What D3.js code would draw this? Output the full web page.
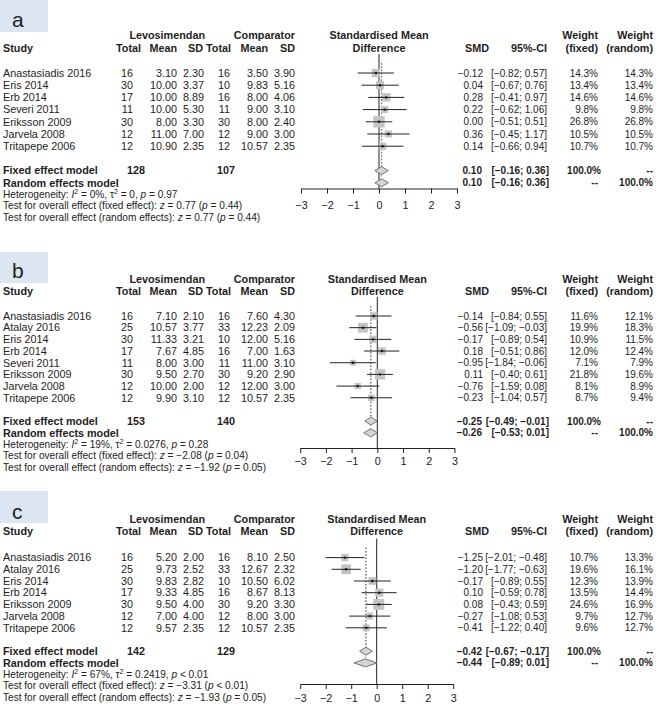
<!DOCTYPE html>
<html><head><meta charset="utf-8">
<script src="https://cdn.jsdelivr.net/npm/d3@7"></script>
<style>
body{margin:0;background:#fff;}
svg{display:block;font-family:"Liberation Sans",Arial,Helvetica,sans-serif;}
</style>
</head><body>
<svg id="chart" width="658" height="723"></svg>
<script>
// ---------- DATA: panel a ----------
const studiesA   = ["Anastasiadis 2016","Eris 2014","Erb 2014","Severi 2011","Eriksson 2009","Jarvela 2008","Tritapepe 2006"];
const levoTotalA = [16,30,17,11,30,12,12];
const levoMeanA  = [3.10,10.00,10.00,10.00,8.00,11.00,10.90];
const levoSdA    = [2.30,3.37,8.89,5.30,3.30,7.00,2.35];
const compTotalA = [16,10,16,11,30,12,12];
const compMeanA  = [3.50,9.83,8.00,9.00,8.00,9.00,10.57];
const compSdA    = [3.90,5.16,4.06,3.10,2.40,3.00,2.35];
const smdA       = [-0.12,0.04,0.28,0.22,0.00,0.36,0.14];
const lowerA     = [-0.82,-0.67,-0.41,-0.62,-0.51,-0.45,-0.66];
const upperA     = [0.57,0.76,0.97,1.06,0.51,1.17,0.94];
const wFixedA    = [14.3,13.4,14.6,9.8,26.8,10.5,10.7];
const wRandomA   = [14.3,13.4,14.6,9.8,26.8,10.5,10.7];

// ---------- DATA: panel b ----------
const studiesB   = ["Anastasiadis 2016","Atalay 2016","Eris 2014","Erb 2014","Severi 2011","Eriksson 2009","Jarvela 2008","Tritapepe 2006"];
const levoTotalB = [16,25,30,17,11,30,12,12];
const levoMeanB  = [7.10,10.57,11.33,7.67,8.00,9.50,10.00,9.90];
const levoSdB    = [2.10,3.77,3.21,4.85,3.00,2.70,2.00,3.10];
const compTotalB = [16,33,10,16,11,30,12,12];
const compMeanB  = [7.60,12.23,12.00,7.00,11.00,9.20,12.00,10.57];
const compSdB    = [4.30,2.09,5.16,1.63,3.10,2.90,3.00,2.35];
const smdB       = [-0.14,-0.56,-0.17,0.18,-0.95,0.11,-0.76,-0.23];
const lowerB     = [-0.84,-1.09,-0.89,-0.51,-1.84,-0.40,-1.59,-1.04];
const upperB     = [0.55,-0.03,0.54,0.86,-0.06,0.61,0.08,0.57];
const wFixedB    = [11.6,19.9,10.9,12.0,7.1,21.8,8.1,8.7];
const wRandomB   = [12.1,18.3,11.5,12.4,7.9,19.6,8.9,9.4];

// ---------- DATA: panel c ----------
const studiesC   = ["Anastasiadis 2016","Atalay 2016","Eris 2014","Erb 2014","Eriksson 2009","Jarvela 2008","Tritapepe 2006"];
const levoTotalC = [16,25,30,17,30,12,12];
const levoMeanC  = [5.20,9.73,9.83,9.33,9.50,7.00,9.57];
const levoSdC    = [2.00,2.52,2.82,4.85,4.00,4.00,2.35];
const compTotalC = [16,33,10,16,30,12,12];
const compMeanC  = [8.10,12.67,10.50,8.67,9.20,8.00,10.57];
const compSdC    = [2.50,2.32,6.02,8.13,3.30,3.00,2.35];
const smdC       = [-1.25,-1.20,-0.17,0.10,0.08,-0.27,-0.41];
const lowerC     = [-2.01,-1.77,-0.89,-0.59,-0.43,-1.08,-1.22];
const upperC     = [-0.48,-0.63,0.55,0.78,0.59,0.53,0.40];
const wFixedC    = [10.7,19.6,12.3,13.5,24.6,9.7,9.6];
const wRandomC   = [13.3,16.1,13.9,14.4,16.9,12.7,12.7];

// ---------- DATA: pooled results (panels a, b, c) ----------
const panelLabels = ["a","b","c"];
const totalLevo   = [128,153,142];
const totalComp   = [107,140,129];
const fixedSmd    = [0.10,-0.25,-0.42];
const fixedLower  = [-0.16,-0.49,-0.67];
const fixedUpper  = [0.36,-0.01,-0.17];
const randomSmd   = [0.10,-0.26,-0.44];
const randomLower = [-0.16,-0.53,-0.89];
const randomUpper = [0.36,0.01,0.01];
const hetI2       = ["0%","19%","67%"];
const hetTau2     = ["0","0.0276","0.2419"];
const hetP        = ["= 0.97","= 0.28","< 0.01"];
const zFixed      = ["0.77","\u22122.08","\u22123.31"];
const pFixed      = ["= 0.44","= 0.04","< 0.01"];
const zRandom     = ["0.77","\u22121.92","\u22121.93"];
const pRandom     = ["= 0.44","= 0.05","= 0.05"];
const axisTicks   = [-3,-2,-1,0,1,2,3];

// ---------- LAYOUT (positions only) ----------
const layout = [
  {boxY:0,   boxH:32, labelBase:26.5, h1:35,    h2:48.5,  row0:73,    dy:12.2,  axisY:188.5, tickPad:8,   x0:379,   unit:26},
  {boxY:252, boxH:31, labelBase:278.3,h1:279.3, h2:291.7, row0:316,   dy:11.68, axisY:448,   tickPad:4.5, x0:377.3, unit:25.7},
  {boxY:491, boxH:32, labelBase:519,  h1:519.3, h2:531.7, row0:557.6, dy:11.7,  axisY:684,   tickPad:5,   x0:376.7, unit:25.5}
];
const panelData = [
  {study:studiesA,ln:levoTotalA,lm:levoMeanA,ls:levoSdA,cn:compTotalA,cm:compMeanA,cs:compSdA,smd:smdA,lo:lowerA,hi:upperA,wf:wFixedA,wr:wRandomA},
  {study:studiesB,ln:levoTotalB,lm:levoMeanB,ls:levoSdB,cn:compTotalB,cm:compMeanB,cs:compSdB,smd:smdB,lo:lowerB,hi:upperB,wf:wFixedB,wr:wRandomB},
  {study:studiesC,ln:levoTotalC,lm:levoMeanC,ls:levoSdC,cn:compTotalC,cm:compMeanC,cs:compSdC,smd:smdC,lo:lowerC,hi:upperC,wf:wFixedC,wr:wRandomC}
];

const FS = 10.8, FSR = 10, FSH = 10.1;
const f2 = d3.format(".2f");
const fp = v => d3.format(".1f")(v) + "%";
const ci = (l,h) => "[" + f2(l) + "; " + f2(h) + "]";
const svg = d3.select("#chart");

// column x (right edges)
const C = {study:3, ln:133, lm:177, ls:204, cn:230, cm:268, cs:295,
           hLevo:205, hComp:295, hLn:141, hLs:203, hCn:231, tLevo:145, tComp:235,
           hSmd:489, smd:483, smdB:482, ci:547, ciB:549, wf:598, wfB:601, wr:653};

function drawPanel(k){
  const P = layout[k], D = panelData[k];
  const g = svg.append("g");
  const x = d3.scaleLinear().domain([-3,3]).range([P.x0 - 3*P.unit, P.x0 + 3*P.unit]);
  const y = d3.scaleLinear().domain([0,1]).range([P.row0, P.row0 + P.dy]);
  const n = D.study.length;
  const yFixed = y(n+1), yRandom = y(n+2);

  const txt = (s, xx, yy, anchor, bold, size, fill) => g.append("text")
      .attr("x", xx).attr("y", yy).attr("dy","0.35em")
      .attr("text-anchor", anchor || "start")
      .attr("font-weight", bold ? "bold" : "normal")
      .attr("font-size", size || FS)
      .attr("fill", fill || "#1e1e1e").text(s);

  // label box
  g.append("rect").attr("x",0).attr("y",P.boxY).attr("width",48).attr("height",P.boxH).attr("fill","#dce6f2");
  g.append("text").attr("x",12).attr("y",P.labelBase).attr("font-size",21).attr("fill","#222").text(panelLabels[k]);

  // headers
  txt("Levosimendan", C.hLevo, P.h1, "end", true);
  txt("Comparator", C.hComp, P.h1, "end", true);
  txt("Study", C.study, P.h2, "start", true);
  txt("Total", C.hLn, P.h2, "end", true);
  txt("Mean", C.lm, P.h2, "end", true);
  txt("SD", C.hLs, P.h2, "end", true);
  txt("Total", C.hCn, P.h2, "end", true);
  txt("Mean", C.cm, P.h2, "end", true);
  txt("SD", C.cs, P.h2, "end", true);
  txt("Standardised Mean", P.x0, P.h1, "middle", true);
  txt("Difference", P.x0, P.h2, "middle", true);
  txt("SMD", C.hSmd, P.h2, "end", true);
  txt("95%-CI", C.ci, P.h2, "end", true);
  txt("Weight", C.wf, P.h1, "end", true);
  txt("(fixed)", C.wf, P.h2, "end", true);
  txt("Weight", C.wr, P.h1, "end", true);
  txt("(random)", C.wr, P.h2, "end", true);

  // study rows
  D.study.forEach((s,i) => {
    const yy = y(i);
    txt(s, C.study, yy);
    txt(D.ln[i], C.ln, yy, "end");
    txt(f2(D.lm[i]), C.lm, yy, "end");
    txt(f2(D.ls[i]), C.ls, yy, "end");
    txt(D.cn[i], C.cn, yy, "end");
    txt(f2(D.cm[i]), C.cm, yy, "end");
    txt(f2(D.cs[i]), C.cs, yy, "end");
    txt(f2(D.smd[i]), C.smd, yy, "end", false, FSR);
    txt(ci(D.lo[i], D.hi[i]), C.ci, yy, "end", false, FSR);
    txt(fp(D.wf[i]), C.wf, yy, "end", false, FSR);
    txt(fp(D.wr[i]), C.wr, yy, "end", false, FSR);
  });

  // pooled rows
  txt("Fixed effect model", C.study, yFixed, "start", true);
  txt(totalLevo[k], C.tLevo, yFixed, "end", true);
  txt(totalComp[k], C.tComp, yFixed, "end", true);
  txt(f2(fixedSmd[k]), C.smdB, yFixed, "end", true, FSR);
  txt(ci(fixedLower[k], fixedUpper[k]), C.ciB, yFixed, "end", true, FSR);
  txt("100.0%", C.wfB, yFixed, "end", true, FSR);
  txt("--", C.wr, yFixed, "end", true, FSR);
  txt("Random effects model", C.study, yRandom, "start", true);
  txt(f2(randomSmd[k]), C.smdB, yRandom, "end", true, FSR);
  txt(ci(randomLower[k], randomUpper[k]), C.ciB, yRandom, "end", true, FSR);
  txt("--", C.wf, yRandom, "end", true, FSR);
  txt("100.0%", C.wr, yRandom, "end", true, FSR);

  // heterogeneity / tests
  const hy = yRandom + 11.5;
  const rich = (yy, parts) => {
    const t = g.append("text").attr("x", C.study).attr("y", yy).attr("dy","0.35em")
      .attr("font-size", FSH).attr("fill","#222");
    parts.forEach(p => {
      const ts = t.append("tspan").text(p[0]);
      if (p[1] === "i") ts.attr("font-style","italic");
      if (p[1] === "sup") ts.attr("font-size", FSH*0.7).attr("dy", -3.5);
      if (p[1] === "after") ts.attr("dy", 3.5);
    });
  };
  rich(hy, [["Heterogeneity: "],["I","i"],["2","sup"],[" = " + hetI2[k] + ", \u03C4","after"],["2","sup"],[" = " + hetTau2[k] + ", ","after"],["p","i"],[" " + hetP[k]]]);
  rich(hy + 11.5, [["Test for overall effect (fixed effect): "],["z","i"],[" = " + zFixed[k] + " ("],["p","i"],[" " + pFixed[k] + ")"]]);
  rich(hy + 23, [["Test for overall effect (random effects): "],["z","i"],[" = " + zRandom[k] + " ("],["p","i"],[" " + pRandom[k] + ")"]]);

  // forest: zero line
  g.append("line").attr("x1", x(0)).attr("x2", x(0))
    .attr("y1", P.row0 - 19).attr("y2", P.axisY).attr("stroke","#222").attr("stroke-width",1);
  // pooled estimate lines (dotted)
  g.append("line").attr("x1", x(fixedSmd[k])).attr("x2", x(fixedSmd[k]))
    .attr("y1", P.row0 - 10).attr("y2", yFixed - 4)
    .attr("stroke","#444").attr("stroke-width",1).attr("stroke-dasharray","1.5,1.8");
  g.append("line").attr("x1", x(randomSmd[k])).attr("x2", x(randomSmd[k]))
    .attr("y1", P.row0 - 10).attr("y2", yRandom - 4)
    .attr("stroke","#888").attr("stroke-width",0.8).attr("stroke-dasharray","1.5,1.8");

  // study squares + CIs
  D.study.forEach((s,i) => {
    const yy = y(i), side = 2.2*Math.sqrt(D.wf[i]);
    g.append("rect").attr("x", x(D.smd[i]) - side/2).attr("y", yy - side/2)
      .attr("width", side).attr("height", side).attr("fill","#c4c4c4");
    g.append("line").attr("x1", x(D.lo[i])).attr("x2", x(D.hi[i]))
      .attr("y1", yy).attr("y2", yy).attr("stroke","#222").attr("stroke-width",1);
    g.append("circle").attr("cx", x(D.smd[i])).attr("cy", yy).attr("r",1.2).attr("fill","#111");
  });

  // diamonds
  const diamond = (est, lo, hi, yy) => g.append("path")
    .attr("d", `M${x(lo)},${yy}L${x(est)},${yy-4}L${x(hi)},${yy}L${x(est)},${yy+4}Z`)
    .attr("fill","#d4d4d4").attr("stroke","#666").attr("stroke-width",0.9);
  diamond(fixedSmd[k], fixedLower[k], fixedUpper[k], yFixed);
  diamond(randomSmd[k], randomLower[k], randomUpper[k], yRandom);

  // axis
  const ax = g.append("g").attr("transform", `translate(0,${P.axisY})`)
    .call(d3.axisBottom(x).tickValues(axisTicks).tickFormat(d3.format("d"))
      .tickSize(5).tickSizeOuter(0).tickPadding(P.tickPad));
  ax.attr("font-family", null).attr("font-size", FS);
  ax.selectAll("path,line").attr("stroke","#222");
  ax.selectAll("text").attr("fill","#222");
}

[0,1,2].forEach(drawPanel);
</script>
</body></html>
